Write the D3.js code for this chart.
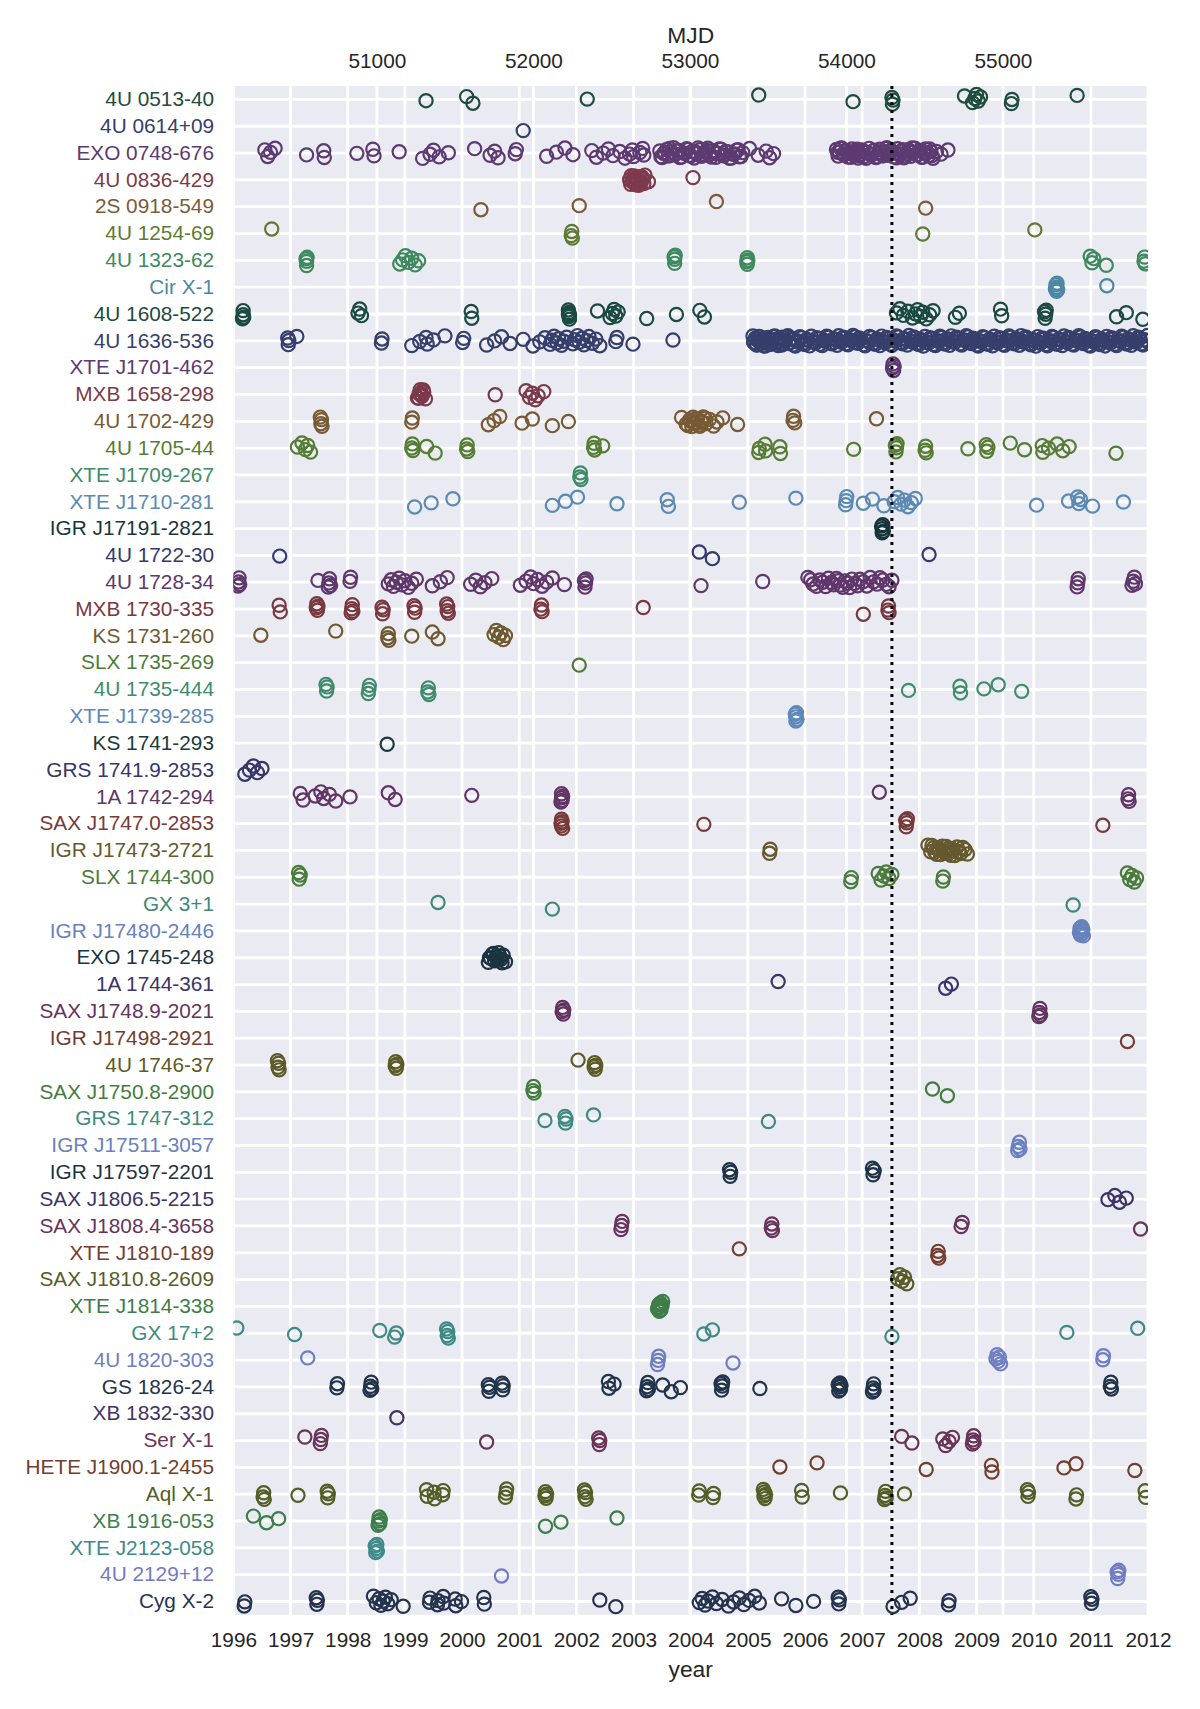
<!DOCTYPE html>
<html>
<head>
<meta charset="utf-8">
<script src="https://cdn.jsdelivr.net/npm/d3@7"></script>
<style>
body { margin: 0; background: #fff; }
svg text { font-family: "Liberation Sans", Arial, sans-serif; }
</style>
</head>
<body>
<svg id="chart" width="1200" height="1709"></svg>
<script>
var sources = ["4U 0513-40", "4U 0614+09", "EXO 0748-676", "4U 0836-429", "2S 0918-549", "4U 1254-69",
    "4U 1323-62", "Cir X-1", "4U 1608-522", "4U 1636-536", "XTE J1701-462", "MXB 1658-298", "4U 1702-429",
    "4U 1705-44", "XTE J1709-267", "XTE J1710-281", "IGR J17191-2821", "4U 1722-30", "4U 1728-34",
    "MXB 1730-335", "KS 1731-260", "SLX 1735-269", "4U 1735-444", "XTE J1739-285", "KS 1741-293",
    "GRS 1741.9-2853", "1A 1742-294", "SAX J1747.0-2853", "IGR J17473-2721", "SLX 1744-300", "GX 3+1",
    "IGR J17480-2446", "EXO 1745-248", "1A 1744-361", "SAX J1748.9-2021", "IGR J17498-2921", "4U 1746-37",
    "SAX J1750.8-2900", "GRS 1747-312", "IGR J17511-3057", "IGR J17597-2201", "SAX J1806.5-2215",
    "SAX J1808.4-3658", "XTE J1810-189", "SAX J1810.8-2609", "XTE J1814-338", "GX 17+2", "4U 1820-303",
    "GS 1826-24", "XB 1832-330", "Ser X-1", "HETE J1900.1-2455", "Aql X-1", "XB 1916-053", "XTE J2123-058",
    "4U 2129+12", "Cyg X-2"];

// one colour per source
var palette = ["#1e4d3e", "#34406e", "#5e3a72", "#7d3a4d", "#7d5a38", "#5f7a33", "#3e8a5e", "#4d88a3",
    "#1b4a42", "#363f6c", "#5f3873", "#7a3a4b", "#785a33", "#567d34", "#3e8b68", "#5b8ab2",
    "#17353a", "#333a6e", "#60376b", "#7a3840", "#6f5a30", "#4f7a37", "#3f8c6c", "#5e88b8",
    "#1b3a3e", "#353669", "#623566", "#773a3a", "#65592d", "#4a7c3c", "#3e8a76", "#6682bd",
    "#1c3440", "#3a3467", "#643460", "#743c33", "#5d5a28", "#437c3f", "#3f8a7e", "#6a80c0",
    "#1f3344", "#3d3465", "#66345c", "#743e30", "#585c28", "#3e7d46", "#3e8a84", "#6e7ec2",
    "#22344a", "#423364", "#693458", "#71402d", "#535e27", "#3e7e4b", "#408a8a", "#727bc0", "#25334f"];

// burst dates (decimal year) per source
var u0513_40 = [1999.37, 2000.08, 2000.19, 2002.19, 2005.19, 2006.84, 2007.52, 2007.53, 2007.54, 2008.79, 2008.93,
    2008.97, 2009.0, 2009.03, 2009.07, 2009.61, 2009.62, 2010.76];
var u0614_09 = [2001.07];
var exo0748_676 = [1996.55, 1996.6, 1996.65, 1996.73, 1997.28, 1997.58, 1997.59, 1998.16, 1998.44, 1998.46, 1998.9,
    1999.31, 1999.44, 1999.5, 1999.6, 1999.76, 2000.22, 2000.49, 2000.57, 2000.63, 2000.93, 2000.95, 2001.48,
    2001.65, 2001.8, 2001.94, 2002.27, 2002.35, 2002.47, 2002.56, 2002.64, 2002.76, 2002.85, 2002.93, 2002.98,
    2003.0, 2003.11, 2003.16, 2003.18, 2003.46, 2003.5, 2003.53, 2003.58, 2003.61, 2003.66, 2003.7, 2003.73,
    2003.79, 2003.84, 2003.87, 2003.93, 2003.97, 2004.03, 2004.06, 2004.1, 2004.16, 2004.19, 2004.25, 2004.3,
    2004.33, 2004.39, 2004.44, 2004.47, 2004.53, 2004.58, 2004.64, 2004.68, 2004.74, 2004.8, 2004.85, 2004.91,
    2005.03, 2005.18, 2005.32, 2005.38, 2005.45, 2006.55, 2006.58, 2006.6, 2006.64, 2006.67, 2006.71, 2006.75,
    2006.77, 2006.82, 2006.86, 2006.88, 2006.93, 2006.97, 2007.0, 2007.04, 2007.09, 2007.12, 2007.16, 2007.19,
    2007.24, 2007.28, 2007.31, 2007.36, 2007.39, 2007.43, 2007.47, 2007.5, 2007.55, 2007.58, 2007.62, 2007.66,
    2007.69, 2007.73, 2007.78, 2007.81, 2007.85, 2007.89, 2007.92, 2007.97, 2008.0, 2008.04, 2008.08, 2008.11,
    2008.16, 2008.2, 2008.24, 2008.38, 2008.5,
    2003.48, 2003.55, 2003.63, 2003.68, 2003.76, 2003.81, 2003.9, 2003.95, 2004.0, 2004.08, 2004.13, 2004.22,
    2004.28, 2004.36, 2004.42, 2004.5, 2004.56, 2004.61, 2004.71, 2004.77, 2004.83, 2004.88,
    2006.57, 2006.62, 2006.69, 2006.73, 2006.8, 2006.84, 2006.91, 2006.95, 2007.02, 2007.07, 2007.14, 2007.21,
    2007.26, 2007.33, 2007.41, 2007.45, 2007.52, 2007.6, 2007.64, 2007.71, 2007.76, 2007.83, 2007.87, 2007.95,
    2008.02, 2008.06, 2008.13, 2008.18, 2008.22, 2008.3];
var u0836_429 = [2002.93, 2002.96, 2002.99, 2003.02, 2003.04, 2003.07, 2003.1, 2003.13, 2003.16, 2003.2, 2003.26, 2004.04,
    2002.95, 2002.98, 2003.01, 2003.03, 2003.06, 2003.09, 2003.12, 2003.15, 2003.18];
var s0918_549 = [2000.33, 2002.05, 2004.45, 2008.11];
var u1254_69 = [1996.67, 2001.91, 2001.92, 2001.93, 2008.06, 2010.02];
var u1323_62 = [1997.27, 1997.28, 1997.28, 1997.29, 1998.91, 1998.96, 1999.01, 1999.06, 1999.12, 1999.18, 1999.24,
    2003.71, 2003.72, 2003.72, 2003.73, 2004.98, 2004.99, 2004.99, 2005.0, 2010.99, 2011.02, 2011.05, 2011.27,
    2011.93, 2011.94, 2011.95];
var cirX1 = [2010.38, 2010.39, 2010.4, 2010.4, 2010.41, 2010.42, 2011.28];
var u1608_522 = [1996.16, 1996.17, 1996.17, 1996.18, 1998.18, 1998.21, 1998.24, 2000.16, 2000.17, 2001.86, 2001.86,
    2001.87, 2001.87, 2001.88, 2001.88, 2002.37, 2002.59, 2002.63, 2002.66, 2002.69, 2002.73, 2003.23, 2003.75,
    2004.16, 2004.24, 2007.6, 2007.66, 2007.72, 2007.8, 2007.88, 2007.93, 2007.97, 2008.02, 2008.06, 2008.12,
    2008.18, 2008.24, 2008.63, 2008.7, 2009.42, 2009.44, 2010.19, 2010.2, 2010.21, 2010.22, 2011.45, 2011.62, 2011.91];
var u1636_536 = [1996.95, 1996.96, 1996.97, 1997.11, 1998.59, 1998.6, 1999.12, 1999.26, 1999.37, 1999.39, 1999.5,
    1999.7, 2000.01, 2000.03, 2000.43, 2000.57, 2000.69, 2000.84, 2001.07, 2001.24, 2001.36, 2001.45, 2001.54,
    2001.57, 2001.61, 2001.66, 2001.69, 2001.74, 2001.78, 2001.83, 2001.94, 2001.97, 2002.02, 2002.05, 2002.1,
    2002.13, 2002.18, 2002.22, 2002.28, 2002.34, 2002.41, 2002.69, 2002.71, 2002.99, 2003.69,
    2005.09, 2005.11, 2005.14, 2005.16, 2005.19, 2005.21, 2005.24, 2005.27, 2005.3, 2005.33, 2005.36, 2005.38,
    2005.41, 2005.45, 2005.48, 2005.5, 2005.53, 2005.57, 2005.6, 2005.62, 2005.66, 2005.7, 2005.73, 2005.76,
    2005.8, 2005.86, 2005.91, 2005.97, 2006.03, 2006.08, 2006.15, 2006.21, 2006.26, 2006.33, 2006.38, 2006.44,
    2006.5, 2006.56, 2006.61, 2006.67, 2006.72, 2006.78, 2006.84, 2006.9, 2006.95, 2007.02, 2007.08, 2007.13,
    2007.2, 2007.26, 2007.31, 2007.37, 2007.43, 2007.49, 2007.55, 2007.6, 2007.67, 2007.73, 2007.79, 2007.85,
    2007.9, 2007.96, 2008.02, 2008.07, 2008.13, 2008.19, 2008.25, 2008.31, 2008.36, 2008.42, 2008.48, 2008.53,
    2008.59, 2008.65, 2008.71, 2008.77, 2008.82, 2008.88, 2008.94, 2009.0, 2009.05, 2009.11, 2009.17, 2009.23,
    2009.28, 2009.34, 2009.4, 2009.46, 2009.52, 2009.57, 2009.63, 2009.69, 2009.75, 2009.8, 2009.86, 2009.92,
    2009.98, 2010.04, 2010.09, 2010.15, 2010.21, 2010.27, 2010.32, 2010.38, 2010.44, 2010.5, 2010.56, 2010.61,
    2010.67, 2010.73, 2010.79, 2010.84, 2010.9, 2010.96, 2011.02, 2011.08, 2011.13, 2011.19, 2011.25, 2011.31,
    2011.36, 2011.42, 2011.48, 2011.54, 2011.6, 2011.65, 2011.71, 2011.77, 2011.83, 2011.88, 2011.94, 2011.99,
    2005.1, 2005.13, 2005.15, 2005.18, 2005.2, 2005.23, 2005.26, 2005.28, 2005.31, 2005.35, 2005.39, 2005.43,
    2005.47, 2005.52, 2005.55, 2005.59, 2005.64, 2005.68, 2005.72, 2005.78, 2005.83, 2005.88, 2005.94, 2006.0,
    2006.05, 2006.11, 2006.18, 2006.24, 2006.3, 2006.35, 2006.41, 2006.47, 2006.53, 2006.59, 2006.64, 2006.7,
    2006.75, 2006.81, 2006.87, 2006.92, 2006.98, 2007.05, 2007.11, 2007.17, 2007.23, 2007.29, 2007.34, 2007.4,
    2007.46, 2007.52, 2007.58, 2007.63, 2007.7, 2007.76, 2007.82, 2007.88, 2007.93, 2007.99, 2008.05, 2008.1,
    2008.16, 2008.22, 2008.28, 2008.34, 2008.39, 2008.45, 2008.51, 2008.56, 2008.62, 2008.68, 2008.74, 2008.8,
    2008.85, 2008.91, 2008.97, 2009.03, 2009.08, 2009.14, 2009.2, 2009.26, 2009.31, 2009.37, 2009.43, 2009.49,
    2009.55, 2009.6, 2009.66, 2009.72, 2009.78, 2009.83, 2009.89, 2009.95, 2010.01, 2010.07, 2010.12, 2010.18,
    2010.24, 2010.3, 2010.35, 2010.41, 2010.47, 2010.53, 2010.59, 2010.64, 2010.7, 2010.76, 2010.82, 2010.87,
    2010.93, 2010.99, 2011.05, 2011.11, 2011.16, 2011.22, 2011.28, 2011.34, 2011.39, 2011.45, 2011.51, 2011.57,
    2011.63, 2011.68, 2011.74, 2011.8, 2011.86, 2011.91, 2011.97];
var xteJ1701_462 = [2007.53, 2007.54, 2007.55, 2007.56];
var mxb1658_298 = [1999.22, 1999.25, 1999.27, 1999.3, 1999.33, 1999.36, 2000.58, 2001.12, 2001.18, 2001.23, 2001.28,
    2001.33, 2001.43, 1999.24, 1999.29, 1999.32];
var u1702_429 = [1997.52, 1997.53, 1997.54, 1997.55, 1999.12, 1999.13, 2000.46, 2000.56, 2000.66, 2001.05, 2001.23,
    2001.58, 2001.86, 2003.84, 2003.92, 2003.98, 2004.02, 2004.06, 2004.1, 2004.14, 2004.18, 2004.22, 2004.27,
    2004.33, 2004.4, 2004.46, 2004.56, 2004.82, 2005.79, 2005.8, 2005.82, 2007.25,
    2003.95, 2004.0, 2004.04, 2004.08, 2004.12, 2004.16, 2004.2, 2004.25];
var u1705_44 = [1997.12, 1997.2, 1997.26, 1997.3, 1997.35, 1999.12, 1999.13, 1999.14, 1999.38, 1999.53, 2000.08,
    2000.09, 2000.1, 2002.3, 2002.31, 2002.32, 2002.46, 2005.19, 2005.2, 2005.3, 2005.31, 2005.56, 2005.57,
    2006.85, 2007.58, 2007.59, 2007.6, 2007.61, 2008.1, 2008.11, 2008.12, 2008.85, 2009.17, 2009.18, 2009.2,
    2009.59, 2009.84, 2010.15, 2010.16, 2010.26, 2010.41, 2010.51, 2010.62, 2011.44];
var xteJ1709_267 = [2002.06, 2002.07, 2002.08];
var xteJ1710_281 = [1999.17, 1999.46, 1999.84, 2001.58, 2001.81, 2002.02, 2002.71, 2003.59, 2003.61, 2004.85,
    2005.84, 2006.71, 2006.72, 2006.73, 2007.02, 2007.18, 2007.38, 2007.56, 2007.62, 2007.68, 2007.74, 2007.8,
    2007.86, 2007.93, 2010.05, 2010.61, 2010.77, 2010.79, 2010.82, 2011.03, 2011.57];
var igrJ17191_2821 = [2007.34, 2007.35, 2007.35, 2007.36, 2007.37];
var u1722_30 = [1996.81, 2004.15, 2004.38, 2008.17];
var u1728_34 = [1996.08, 1996.09, 1996.1, 1996.11, 1997.48, 1997.66, 1997.67, 1997.68, 1997.7, 1998.04, 1998.05,
    1998.71, 1998.76, 1998.8, 1998.85, 1998.9, 1998.95, 1999.0, 1999.06, 1999.12, 1999.2, 1999.48, 1999.62,
    1999.74, 2000.15, 2000.24, 2000.32, 2000.4, 2000.52, 2001.02, 2001.12, 2001.2, 2001.25, 2001.32, 2001.4,
    2001.48, 2001.58, 2001.79, 2002.14, 2002.15, 2002.16, 2002.17, 2004.18, 2005.26, 2006.05, 2006.14, 2006.26,
    2006.36, 2006.46, 2006.55, 2006.62, 2006.7, 2006.78, 2006.87, 2006.96, 2007.08, 2007.2, 2007.31, 2007.42,
    2007.52, 2010.76, 2010.77, 2010.78, 2011.72, 2011.74, 2011.76, 2011.78,
    2006.1, 2006.2, 2006.31, 2006.41, 2006.5, 2006.58, 2006.66, 2006.74, 2006.82, 2006.92, 2007.02, 2007.14,
    2007.26, 2007.36, 2007.47];
var mxb1730_335 = [1996.8, 1996.82, 1997.45, 1997.46, 1997.47, 1997.48, 1998.06, 1998.07, 1998.08, 1998.09, 1998.6,
    1998.61, 1998.62, 1999.16, 1999.17, 1999.18, 1999.73, 1999.74, 1999.75, 1999.76, 2001.38, 2001.39, 2001.4,
    2003.17, 2007.02, 2007.45, 2007.46, 2007.47];
var ks1731_260 = [1996.48, 1997.79, 1998.7, 1998.71, 1998.72, 1999.12, 1999.48, 1999.58, 2000.56, 2000.6, 2000.64,
    2000.68, 2000.72, 2000.76];
var slx1735_269 = [2002.05];
var u1735_444 = [1997.62, 1997.63, 1997.64, 1998.36, 1998.37, 1998.38, 1999.4, 1999.41, 1999.42, 2007.81, 2008.71,
    2008.72, 2009.13, 2009.38, 2009.79];
var xteJ1739_285 = [2005.83, 2005.84, 2005.84, 2005.85, 2005.86];
var ks1741_293 = [1998.69];
var grs1741_9_2853 = [1996.2, 1996.28, 1996.35, 1996.42, 1996.5];
var a1742_294 = [1997.17, 1997.22, 1997.43, 1997.53, 1997.58, 1997.68, 1997.79, 1998.04, 1998.71, 1998.83, 2000.17,
    2001.73, 2001.74, 2001.74, 2001.75, 2001.76, 2007.3, 2011.65, 2011.66, 2011.67];
var saxJ1747_0_2853 = [2001.73, 2001.74, 2001.74, 2001.75, 2001.76, 2004.23, 2007.76, 2007.77, 2007.78, 2007.79, 2011.21];
var igrJ17473_2721 = [2005.38, 2005.39, 2008.15, 2008.2, 2008.25, 2008.3, 2008.35, 2008.4, 2008.45, 2008.5, 2008.55,
    2008.6, 2008.66, 2008.72, 2008.8, 2008.22, 2008.27, 2008.32, 2008.37, 2008.42, 2008.47, 2008.52, 2008.57,
    2008.62, 2008.69, 2008.76, 2008.84];
var slx1744_300 = [1997.14, 1997.15, 1997.17, 2006.8, 2006.81, 2007.28, 2007.33, 2007.38, 2007.42, 2007.47, 2007.52,
    2008.41, 2008.42, 2011.64, 2011.68, 2011.72, 2011.76, 2011.8];
var gx3p1 = [1999.58, 2001.58, 2010.69];
var igrJ17480_2446 = [2010.8, 2010.81, 2010.82, 2010.83, 2010.84, 2010.85, 2010.86, 2010.87];
var exo1745_248 = [2000.46, 2000.5, 2000.53, 2000.57, 2000.6, 2000.64, 2000.68, 2000.72, 2000.76,
    2000.48, 2000.55, 2000.62, 2000.66, 2000.7];
var a1744_361 = [2005.53, 2008.46, 2008.56];
var saxJ1748_9_2021 = [2001.75, 2001.76, 2001.77, 2001.78, 2010.09, 2010.1, 2010.11, 2010.12];
var igrJ17498_2921 = [2011.64];
var u1746_37 = [1996.77, 1996.78, 1996.79, 1996.8, 1998.83, 1998.84, 1998.85, 1998.86, 2002.03, 2002.31, 2002.32,
    2002.33, 2002.34];
var saxJ1750_8_2900 = [2001.24, 2001.25, 2001.26, 2008.23, 2008.49];
var grs1747_312 = [2001.45, 2001.8, 2001.81, 2001.82, 2002.3, 2005.36];
var igrJ17511_3057 = [2009.72, 2009.73, 2009.75, 2009.76];
var igrJ17597_2201 = [2004.68, 2004.69, 2004.7, 2007.18, 2007.19, 2007.21];
var saxJ1806_5_2215 = [2011.3, 2011.42, 2011.5, 2011.62];
var saxJ1808_4_3658 = [2002.78, 2002.79, 2002.8, 2005.41, 2005.42, 2005.43, 2008.73, 2008.75, 2011.87];
var xteJ1810_189 = [2004.85, 2008.32, 2008.33, 2008.34];
var saxJ1810_8_2609 = [2007.62, 2007.66, 2007.7, 2007.74, 2007.78];
var xteJ1814_338 = [2003.42, 2003.44, 2003.45, 2003.46, 2003.47, 2003.48, 2003.5, 2003.51];
var gx17p2 = [1996.06, 1997.07, 1998.56, 1998.82, 1998.85, 1999.73, 1999.74, 1999.75, 1999.76, 2004.23, 2004.38,
    2007.52, 2010.58, 2011.82];
var u1820_303 = [1997.3, 2003.42, 2003.43, 2003.44, 2004.74, 2009.34, 2009.36, 2009.38, 2009.4, 2009.42, 2011.21, 2011.22];
var gs1826_24 = [1997.81, 1997.82, 1998.39, 1998.4, 1998.41, 1998.42, 2000.46, 2000.47, 2000.48, 2000.7, 2000.71,
    2000.72, 2002.56, 2002.57, 2002.66, 2003.23, 2003.24, 2003.25, 2003.26, 2003.51, 2003.66, 2003.82, 2004.53,
    2004.54, 2004.55, 2004.56, 2005.21, 2006.58, 2006.59, 2006.6, 2006.61, 2006.62, 2006.63, 2007.18, 2007.19,
    2007.2, 2007.21, 2011.34, 2011.35, 2011.36];
var xb1832_330 = [1998.86];
var serX1 = [1997.25, 1997.52, 1997.53, 1997.54, 2000.43, 2002.39, 2002.4, 2002.41, 2007.69, 2007.87, 2008.41,
    2008.46, 2008.52, 2008.58, 2008.93, 2008.94, 2008.95, 2008.96];
var heteJ1900_1_2455 = [2005.56, 2006.21, 2008.12, 2009.26, 2009.27, 2010.53, 2010.74, 2011.77];
var aqlX1 = [1996.52, 1996.53, 1996.54, 1997.13, 1997.64, 1997.65, 1997.66, 1999.38, 1999.39, 1999.51, 1999.52,
    1999.66, 1999.67, 2000.76, 2000.77, 2000.78, 2001.45, 2001.46, 2001.47, 2001.48, 2002.14, 2002.15, 2002.16,
    2002.17, 2004.14, 2004.15, 2004.39, 2004.4, 2005.27, 2005.28, 2005.29, 2005.3, 2005.31, 2005.94, 2005.95,
    2006.62, 2007.39, 2007.4, 2007.41, 2007.42, 2007.74, 2009.89, 2009.9, 2009.91, 2010.74, 2010.75, 2011.95, 2011.96];
var xb1916_053 = [1996.35, 1996.58, 1996.79, 1998.53, 1998.54, 1998.55, 1998.56, 1998.57, 2001.46, 2001.73, 2002.71];
var xteJ2123_058 = [1998.48, 1998.49, 1998.5, 1998.51, 1998.52];
var u2129_12 = [2000.69, 2011.46, 2011.47, 2011.48, 2011.49];
var cygX2 = [1996.19, 1996.2, 1997.45, 1997.46, 1997.47, 1998.45, 1998.5, 1998.55, 1998.58, 1998.62, 1998.66,
    1998.7, 1998.76, 1998.97, 1999.43, 1999.44, 1999.57, 1999.58, 1999.67, 1999.68, 1999.88, 1999.89, 1999.99,
    2000.38, 2000.39, 2002.41, 2002.69, 2004.15, 2004.2, 2004.25, 2004.3, 2004.38, 2004.45, 2004.55, 2004.66,
    2004.75, 2004.85, 2004.93, 2005.02, 2005.12, 2005.2, 2005.59, 2005.84, 2006.15, 2006.58, 2006.59, 2006.6,
    2007.54, 2007.69, 2007.84, 2008.51, 2008.52, 2011.0, 2011.01, 2011.02];

var burstYears = [u0513_40, u0614_09, exo0748_676, u0836_429, s0918_549, u1254_69, u1323_62, cirX1, u1608_522,
    u1636_536, xteJ1701_462, mxb1658_298, u1702_429, u1705_44, xteJ1709_267, xteJ1710_281, igrJ17191_2821,
    u1722_30, u1728_34, mxb1730_335, ks1731_260, slx1735_269, u1735_444, xteJ1739_285, ks1741_293,
    grs1741_9_2853, a1742_294, saxJ1747_0_2853, igrJ17473_2721, slx1744_300, gx3p1, igrJ17480_2446, exo1745_248,
    a1744_361, saxJ1748_9_2021, igrJ17498_2921, u1746_37, saxJ1750_8_2900, grs1747_312, igrJ17511_3057,
    igrJ17597_2201, saxJ1806_5_2215, saxJ1808_4_3658, xteJ1810_189, saxJ1810_8_2609, xteJ1814_338, gx17p2,
    u1820_303, gs1826_24, xb1832_330, serX1, heteJ1900_1_2455, aqlX1, xb1916_053, xteJ2123_058, u2129_12, cygX2];

var yearTicks = d3.range(1996, 2013);
var mjdTicks = [51000, 52000, 53000, 54000, 55000];
var mjdStart = 50083;      // MJD of 1996-01-01
var markerYear = 2007.52;  // dotted reference line

var svg = d3.select("#chart"),
    plotLeft = 233.4, plotRight = 1148,
    plotTop = 86, plotBottom = 1614.9,
    tickColor = "#262626";

var x = d3.scaleLinear().domain([1996, 2012]).range([plotLeft, plotRight]);
var xMjd = d3.scaleLinear().domain([mjdStart, mjdStart + 16 * 365.25]).range([plotLeft, plotRight]);
var y = d3.scalePoint().domain(sources).range([plotTop, plotBottom]).padding(0.5);

svg.append("rect").attr("width", 1200).attr("height", 1709).attr("fill", "#fff");

svg.append("clipPath").attr("id", "plotclip")
    .append("rect")
    .attr("x", plotLeft).attr("y", plotTop)
    .attr("width", plotRight - plotLeft).attr("height", plotBottom - plotTop);

// background + grid
svg.append("rect")
    .attr("x", plotLeft).attr("y", plotTop)
    .attr("width", plotRight - plotLeft).attr("height", plotBottom - plotTop)
    .attr("fill", "#eaeaf2");

var grid = svg.append("g")
    .attr("clip-path", "url(#plotclip)")
    .attr("stroke", "#fff")
    .attr("stroke-width", 2.8);

grid.selectAll("line.h")
    .data(sources)
    .enter().append("line")
    .attr("class", "h")
    .attr("x1", plotLeft).attr("x2", plotRight)
    .attr("y1", function(d) { return y(d); })
    .attr("y2", function(d) { return y(d); });

grid.selectAll("line.vy")
    .data(yearTicks)
    .enter().append("line")
    .attr("class", "vy")
    .attr("y1", plotTop).attr("y2", plotBottom)
    .attr("x1", function(d) { return x(d); })
    .attr("x2", function(d) { return x(d); });

grid.selectAll("line.vm")
    .data(mjdTicks)
    .enter().append("line")
    .attr("class", "vm")
    .attr("y1", plotTop).attr("y2", plotBottom)
    .attr("x1", function(d) { return xMjd(d); })
    .attr("x2", function(d) { return xMjd(d); });

// points, spread a little around each row (strip plot jitter)
var jit = 0.2 * y.step();
var points = svg.append("g").attr("clip-path", "url(#plotclip)");

sources.forEach(function(name, r) {
    points.append("g")
        .attr("fill", "none")
        .attr("stroke", palette[r])
        .attr("stroke-width", 2.2)
        .selectAll("circle")
        .data(burstYears[r])
        .enter().append("circle")
        .attr("cx", function(d) { return x(d); })
        .attr("cy", function(d, i) {
            var f = ((i + 1) * 0.618034 + r * 0.291) % 1;
            return y(name) + (f - 0.5) * 2 * jit;
        })
        .attr("r", 6.6);
});

svg.append("line")
    .attr("x1", x(markerYear)).attr("x2", x(markerYear))
    .attr("y1", plotTop).attr("y2", plotBottom)
    .attr("stroke", "#000")
    .attr("stroke-width", 3)
    .attr("stroke-dasharray", "3,5");

// axes
var fmt = d3.format("d");

var xAxis = svg.append("g")
    .attr("transform", "translate(0," + plotBottom + ")")
    .call(d3.axisBottom(x).tickValues(yearTicks).tickFormat(fmt).tickSize(0).tickPadding(17.5));

var topAxis = svg.append("g")
    .attr("transform", "translate(0," + plotTop + ")")
    .call(d3.axisTop(xMjd).tickValues(mjdTicks).tickFormat(fmt).tickSize(0).tickPadding(18));

var yAxis = svg.append("g")
    .attr("transform", "translate(" + plotLeft + ",0)")
    .call(d3.axisLeft(y).tickSize(0).tickPadding(19.4));

[xAxis, topAxis, yAxis].forEach(function(g) {
    g.select(".domain").remove();
    g.attr("font-size", 20.8)
        .attr("font-family", "'Liberation Sans', Arial, sans-serif")
        .attr("color", tickColor);
});

yAxis.selectAll(".tick text")
    .attr("dy", "0.3em")
    .attr("fill", function(d, i) { return palette[i]; });

svg.append("text")
    .attr("x", (plotLeft + plotRight) / 2).attr("y", 42.5)
    .attr("text-anchor", "middle")
    .attr("font-size", 22.8)
    .attr("fill", tickColor)
    .text("MJD");

svg.append("text")
    .attr("x", (plotLeft + plotRight) / 2).attr("y", 1677)
    .attr("text-anchor", "middle")
    .attr("font-size", 22.8)
    .attr("fill", tickColor)
    .text("year");
</script>
</body>
</html>
